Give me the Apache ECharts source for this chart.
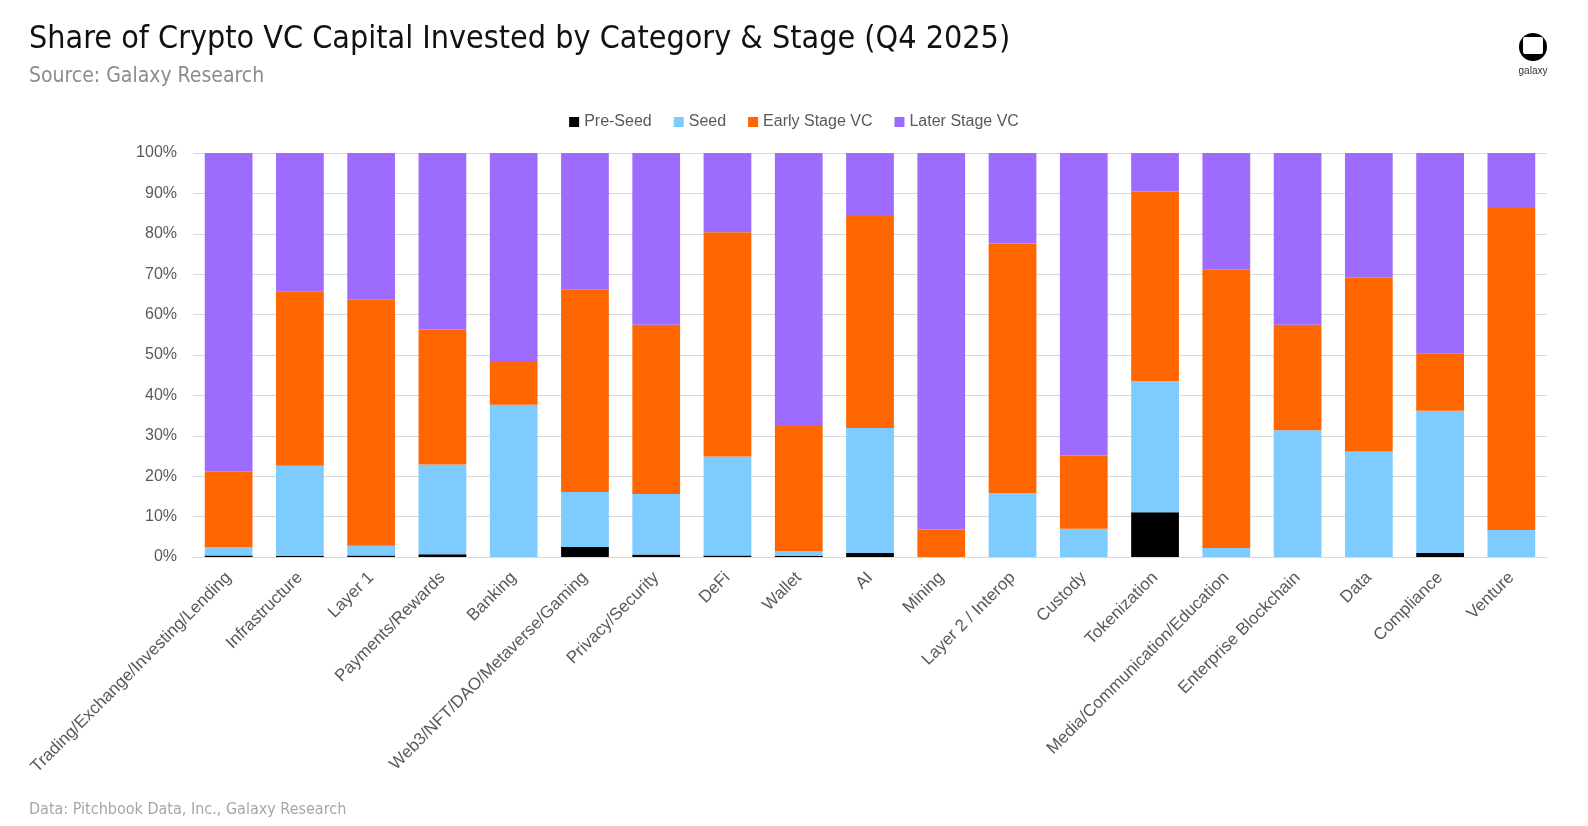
<!DOCTYPE html>
<html>
<head>
<meta charset="utf-8">
<script src="https://cdn.jsdelivr.net/npm/echarts@6/dist/echarts.min.js"></script>
<style>
html,body{margin:0;padding:0;background:#fff;}
#chart{width:1588px;height:826px;}
</style>
</head>
<body>
<div id="chart"></div>
<script>
const categories = ["Trading/Exchange/Investing/Lending","Infrastructure","Layer 1","Payments/Rewards","Banking","Web3/NFT/DAO/Metaverse/Gaming","Privacy/Security","DeFi","Wallet","AI","Mining","Layer 2 / Interop","Custody","Tokenization","Media/Communication/Education","Enterprise Blockchain","Data","Compliance","Venture"];
const preSeed   = [0.4, 0.3, 0.4, 0.7, 0.0, 2.5, 0.6, 0.4, 0.3, 1.0, 0.0, 0.0, 0.0, 11.1, 0.0, 0.0, 0.0, 1.0, 0.0];
const seed      = [2.1, 22.3, 2.4, 22.2, 37.7, 13.6, 15.0, 24.5, 1.2, 30.9, 0.0, 15.8, 7.0, 32.4, 2.2, 31.4, 26.1, 35.2, 6.7];
const earlyVC   = [18.6, 43.2, 61.0, 33.4, 10.8, 50.2, 41.9, 55.5, 30.9, 52.5, 6.8, 61.8, 18.1, 47.0, 68.9, 26.1, 43.0, 14.1, 79.7];
const laterVC   = [78.9, 34.2, 36.2, 43.7, 51.5, 33.7, 42.5, 19.6, 67.6, 15.6, 93.2, 22.4, 74.9, 9.5, 28.9, 42.5, 30.9, 49.7, 13.6];
const seriesNames = ["Pre-Seed","Seed","Early Stage VC","Later Stage VC"];
const yTicks = [0,10,20,30,40,50,60,70,80,90,100];

const colors = ["#000000","#7DCBFF","#FF6600","#9E6BFF"];
const chart = echarts.init(document.getElementById('chart'), null, {renderer:'canvas'});
const dataSets = [preSeed, seed, earlyVC, laterVC];
const titleFont = "'Liberation Sans Narrow','DejaVu Sans Condensed','Liberation Sans',sans-serif";
const bodyFont = "'Liberation Sans',Arial,sans-serif";

chart.setOption({
  animation:false,
  backgroundColor:'#ffffff',
  color: colors,
  title:[
    {text:"Share of Crypto VC Capital Invested by Category & Stage (Q4 2025)", left:24, top:19,
     textStyle:{fontFamily:titleFont, fontSize:32, fontWeight:'normal', color:'#111111'}},
    {text:"Source: Galaxy Research", left:24, top:61,
     textStyle:{fontFamily:titleFont, fontSize:21, fontWeight:'normal', color:'#8c8c8c'}},
    {text:"Data: Pitchbook Data, Inc., Galaxy Research", left:24, top:797,
     textStyle:{fontFamily:titleFont, fontSize:16, fontWeight:'normal', color:'#a6a6a6'}}
  ],
  legend:{
    data: seriesNames, left:'center', top:109, itemWidth:10, itemHeight:10, itemGap:22,
    icon:'rect',
    textStyle:{fontFamily:bodyFont, fontSize:16, color:'#595959'}
  },
  grid:{left:193, right:41, top:153, bottom:269, containLabel:false},
  xAxis:{
    type:'category', data:categories,
    axisTick:{show:false},
    axisLine:{lineStyle:{color:'#d9d9d9', width:1}},
    axisLabel:{interval:0, rotate:45, margin:18, fontFamily:bodyFont, fontSize:17, color:'#595959'}
  },
  yAxis:{
    type:'value', min:0, max:100, interval:10,
    axisLabel:{formatter:'{value}%', fontFamily:bodyFont, fontSize:16, color:'#595959', margin:16},
    splitLine:{lineStyle:{color:'#d9d9d9', width:1}},
    axisLine:{show:false}, axisTick:{show:false}
  },
  series: seriesNames.map((n,i)=>({
    name:n, type:'bar', stack:'total', data:dataSets[i], barWidth:'67%',
    itemStyle:{color:colors[i]}
  })),
  graphic:[
    {type:'circle', shape:{cx:1533, cy:47, r:14}, style:{fill:'#000'}},
    {type:'rect', shape:{x:1523, y:37, width:20, height:17, r:2}, style:{fill:'#fff'}},
    {type:'text', style:{x:1533, y:71, text:'galaxy', fill:'#333', fontSize:10, fontFamily:bodyFont, align:'center', verticalAlign:'middle'}}
  ]
});
</script>
</body>
</html>
